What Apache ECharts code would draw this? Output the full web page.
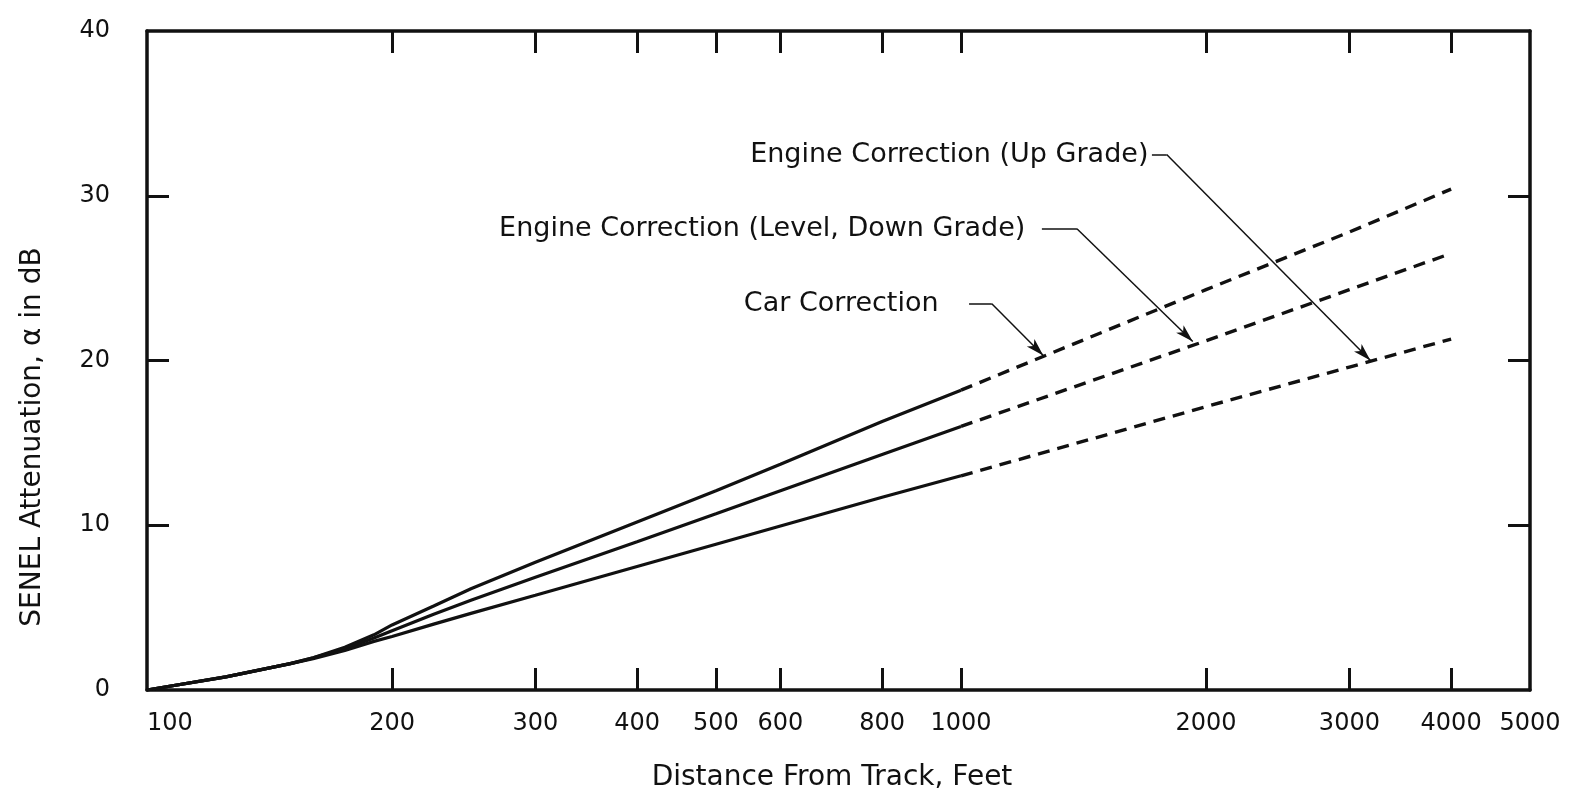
<!DOCTYPE html>
<html>
<head>
<meta charset="utf-8">
<title>SENEL Attenuation vs Distance</title>
<script src="https://cdn.jsdelivr.net/npm/echarts@6/dist/echarts.min.js"></script>
<style>
  html, body { margin: 0; padding: 0; background: #fff; }
  #chart { width: 1569px; height: 796px; }
</style>
</head>
<body>
<div id="chart"></div>
<script>
// Distance from track (feet) for the measured (solid) and extrapolated (dashed) parts
const distSolid = [100, 125, 150, 160, 175, 190, 200, 225, 250, 300, 400, 500, 600, 800, 1000];
const distDashed = [1000, 2000, 3000, 4000];

// SENEL attenuation (dB)
const carSolid = [0, 0.8, 1.6, 1.95, 2.6, 3.35, 3.95, 5.1, 6.15, 7.75, 10.2, 12.1, 13.7, 16.3, 18.2];
const levelSolid = [0, 0.8, 1.6, 1.95, 2.5, 3.15, 3.6, 4.6, 5.45, 6.85, 9.0, 10.7, 12.1, 14.3, 16.0];
const upSolid = [0, 0.8, 1.6, 1.9, 2.4, 2.95, 3.25, 4.0, 4.65, 5.75, 7.5, 8.85, 9.95, 11.7, 13.0];
const carDashed = [18.2, 24.3, 27.8, 30.4];
const levelDashed = [16.0, 21.2, 24.3, 26.5];
const upDashed = [13.0, 17.2, 19.6, 21.3];

// Axis ticks and labels
const xTickValues = [200, 300, 400, 500, 600, 800, 1000, 2000, 3000, 4000];
const xLabelValues = [100, 200, 300, 400, 500, 600, 800, 1000, 2000, 3000, 4000, 5000];
const yTickValues = [10, 20, 30];

const curveNames = ['Car Correction', 'Engine Correction (Level, Down Grade)', 'Engine Correction (Up Grade)'];

const FONT = 'DejaVu Sans';
const INK = '#111';

const zip = (xs, ys) => xs.map((x, i) => [x, ys[i]]);

// Leader lines: label anchor -> elbow -> arrow tip on the curve (data coordinates)
const leaders = [
  { from: [1023, 23.45], elbow: [1091, 23.45], tip: [1262, 20.3], gap: 30 },
  { from: [1257, 28.0], elbow: [1388, 28.0], tip: [1926, 21.15], gap: 16 },
  { from: [1716, 32.5], elbow: [1789, 32.5], tip: [3184, 20.0], gap: 3 }
];

function leaderMarks(i) {
  const L = leaders[i];
  return {
    markLine: {
      silent: true,
      animation: false,
      symbol: ['none', 'none'],
      lineStyle: { color: INK, width: 1.5, type: 'solid' },
      label: { show: false },
      emphasis: { disabled: true },
      data: [
        [{ coord: L.from }, { coord: L.elbow }],
        [{ coord: L.elbow, symbol: 'none' }, { coord: L.tip, symbol: 'arrow', symbolSize: [8, 18] }]
      ]
    },
    markPoint: {
      silent: true,
      animation: false,
      symbol: 'circle',
      symbolSize: 1,
      itemStyle: { color: 'rgba(0,0,0,0)' },
      label: {
        show: true,
        position: 'left',
        distance: L.gap,
        color: INK,
        fontFamily: FONT,
        fontSize: 27,
        formatter: curveNames[i]
      },
      data: [{ coord: L.from }]
    }
  };
}

function solid(name, data, idx) {
  return Object.assign({
    name: name,
    type: 'line',
    data: data,
    xAxisIndex: 0,
    yAxisIndex: 0,
    showSymbol: false,
    symbol: 'none',
    lineStyle: { color: INK, width: 3.2 },
    z: 3
  }, leaderMarks(idx));
}

// Extrapolated parts are drawn against the top/right axes (same scales as bottom/left)
function dashed(name, data) {
  return {
    name: name,
    type: 'line',
    data: data,
    xAxisIndex: 1,
    yAxisIndex: 1,
    showSymbol: false,
    symbol: 'none',
    lineStyle: { color: INK, width: 3.4, type: [12, 8] },
    z: 3
  };
}

const chart = echarts.init(document.getElementById('chart'), null, { renderer: 'canvas' });

const xCommon = {
  type: 'log',
  logBase: 10,
  min: 100,
  max: 5000,
  axisLine: { show: true, onZero: false, lineStyle: { color: INK, width: 3.5 } },
  axisTick: { show: true, inside: true, length: 22, customValues: xTickValues, lineStyle: { color: INK, width: 3 } },
  minorTick: { show: false },
  splitLine: { show: false },
  minorSplitLine: { show: false }
};

const yCommon = {
  type: 'value',
  min: 0,
  max: 40,
  interval: 10,
  axisLine: { show: true, onZero: false, lineStyle: { color: INK, width: 3.5 } },
  axisTick: { show: true, inside: true, length: 22, customValues: yTickValues, lineStyle: { color: INK, width: 3 } },
  splitLine: { show: false }
};

chart.setOption({
  animation: false,
  backgroundColor: '#fff',
  grid: { left: 147, right: 39, top: 31, bottom: 106, containLabel: false },
  xAxis: [
    Object.assign({}, xCommon, {
      position: 'bottom',
      axisLabel: {
        show: true, customValues: xLabelValues, margin: 22,
        alignMinLabel: 'left',
        color: INK, fontFamily: FONT, fontSize: 24,
        formatter: v => String(Math.round(v))
      }
    }),
    Object.assign({}, xCommon, { position: 'top', axisLabel: { show: false } })
  ],
  yAxis: [
    Object.assign({}, yCommon, {
      position: 'left',
      axisLabel: { show: true, margin: 37, color: INK, fontFamily: FONT, fontSize: 24 }
    }),
    Object.assign({}, yCommon, { position: 'right', axisLabel: { show: false } })
  ],
  graphic: [
    {
      type: 'text',
      x: 33, y: 437,
      rotation: Math.PI / 2,
      style: {
        text: 'SENEL Attenuation, \u03b1 in dB',
        fontFamily: FONT, fontSize: 28, fill: INK,
        align: 'center', verticalAlign: 'middle'
      }
    },
    {
      type: 'text',
      x: 832, y: 778,
      style: {
        text: 'Distance From Track, Feet',
        fontFamily: FONT, fontSize: 28, fill: INK,
        align: 'center', verticalAlign: 'middle'
      }
    }
  ],
  series: [
    solid(curveNames[0], zip(distSolid, carSolid), 0),
    solid(curveNames[1], zip(distSolid, levelSolid), 1),
    solid(curveNames[2], zip(distSolid, upSolid), 2),
    dashed(curveNames[0], zip(distDashed, carDashed)),
    dashed(curveNames[1], zip(distDashed, levelDashed)),
    dashed(curveNames[2], zip(distDashed, upDashed))
  ]
});
</script>
</body>
</html>
